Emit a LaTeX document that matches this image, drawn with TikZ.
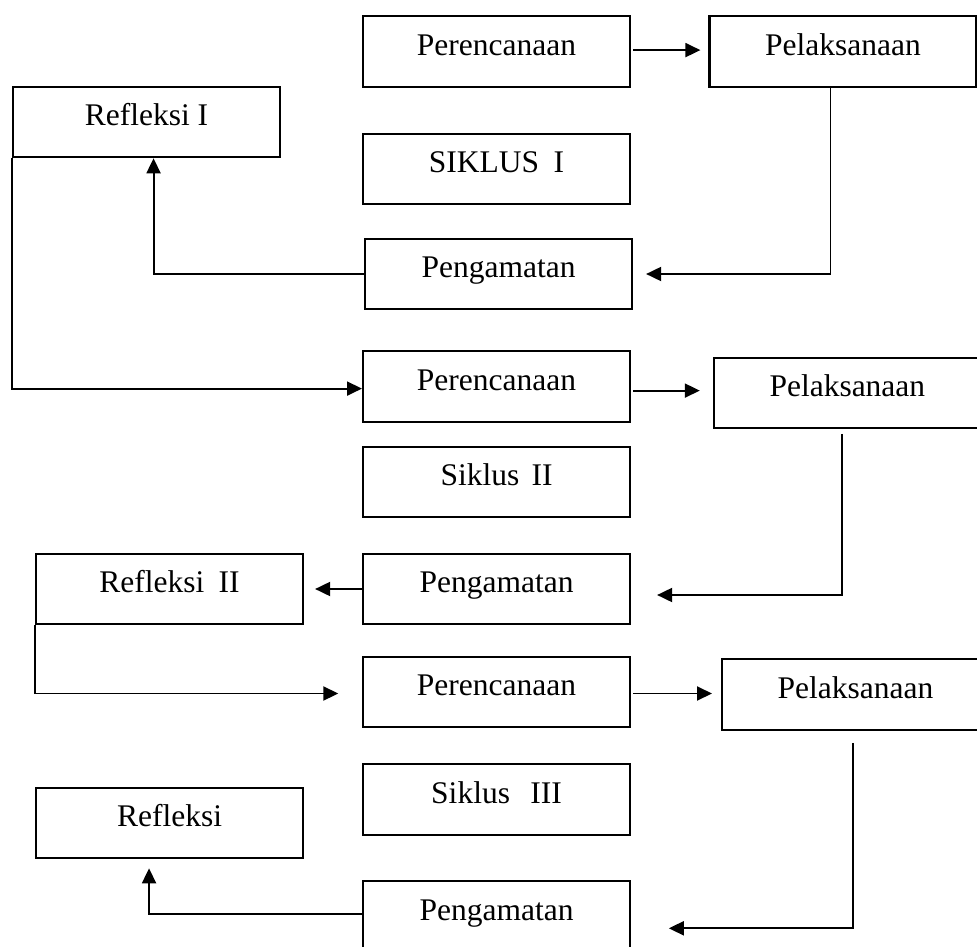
\documentclass[tikz,border=0pt]{standalone}
\usepackage{fontspec}
\setmainfont{Liberation Serif}
\usetikzlibrary{arrows.meta}
\begin{document}
\begin{tikzpicture}[x=1pt,y=-1pt,
  stagebox/.style={draw, line width=2.1pt, minimum width=267pt, minimum height=70.5pt,
    inner xsep=0pt, inner ysep=0pt, text height=39pt, text depth=31.5pt,
    anchor=north west, font=\fontsize{31.5}{36}\selectfont},
  arr/.style={line width=1.9pt, -{Triangle[length=15pt,width=14pt]}}]
\clip (0,0) rectangle (977,947);
\fill[white] (0,0) rectangle (977,947);
% Siklus I
\node[stagebox] (P1) at (362,15.3) {Perencanaan};
\node[stagebox] (Pl1) at (708.4,15.3) {Pelaksanaan};
\node[stagebox] (R1) at (12,85.7) {Refleksi I};
\node[stagebox] (S1) at (362,132.7) {SIKLUS\hspace{14.6pt}I};
\node[stagebox] (G1) at (364,237.7) {Pengamatan};
% Siklus II
\node[stagebox] (P2) at (362,350.3) {Perencanaan};
\node[stagebox] (Pl2) at (712.8,356.7) {Pelaksanaan};
\node[stagebox] (S2) at (362,445.7) {Siklus\hspace{12.2pt}II};
\node[stagebox] (G2) at (362,552.7) {Pengamatan};
\node[stagebox] (R2) at (35,552.7) {Refleksi\hspace{14.2pt}II};
% Siklus III
\node[stagebox] (P3) at (362,655.7) {Perencanaan};
\node[stagebox] (Pl3) at (721,658.3) {Pelaksanaan};
\node[stagebox] (S3) at (362,763.3) {Siklus\hspace{20.4pt}III};
\node[stagebox] (R3) at (35,786.7) {Refleksi};
\node[stagebox] (G3) at (362,880) {Pengamatan};
% connectors cycle I
\draw[arr] ([shift={(2,-1.5)}]P1.east) -- ([shift={(-8,-1.5)}]P1.east -| Pl1.west);
\draw[arr] ([xshift=-12.5pt]Pl1.south) |- ([xshift=13pt]G1.east);
\draw[arr] (G1.west) -| ([xshift=7pt]R1.south);
\draw[arr] (R1.south west) |- ([yshift=-2pt]P2.west);
% connectors cycle II
\draw[arr] ([shift={(2,4)}]P2.east) -- ([shift={(-13,4)}]P2.east -| Pl2.west);
\draw[arr] ([shift={(-5.5,4.5)}]Pl2.south) |- ([shift={(26,6)}]G2.east);
\draw[arr] (G2.west) -- ([xshift=11pt]R2.east);
\draw[arr] (R2.south west) |- ([shift={(-23.7,1.5)}]P3.west);
% connectors cycle III
\draw[arr] ([shift={(2,1.5)}]P3.east) -- ([shift={(-9,1.5)}]P3.east -| Pl3.west);
\draw[arr] ([shift={(-2.5,12)}]Pl3.south) |- ([shift={(37.7,12)}]G3.east);
\draw[arr] ([yshift=2pt]G3.west) -| ([shift={(-20.5,9)}]R3.south);
\end{tikzpicture}
\end{document}
